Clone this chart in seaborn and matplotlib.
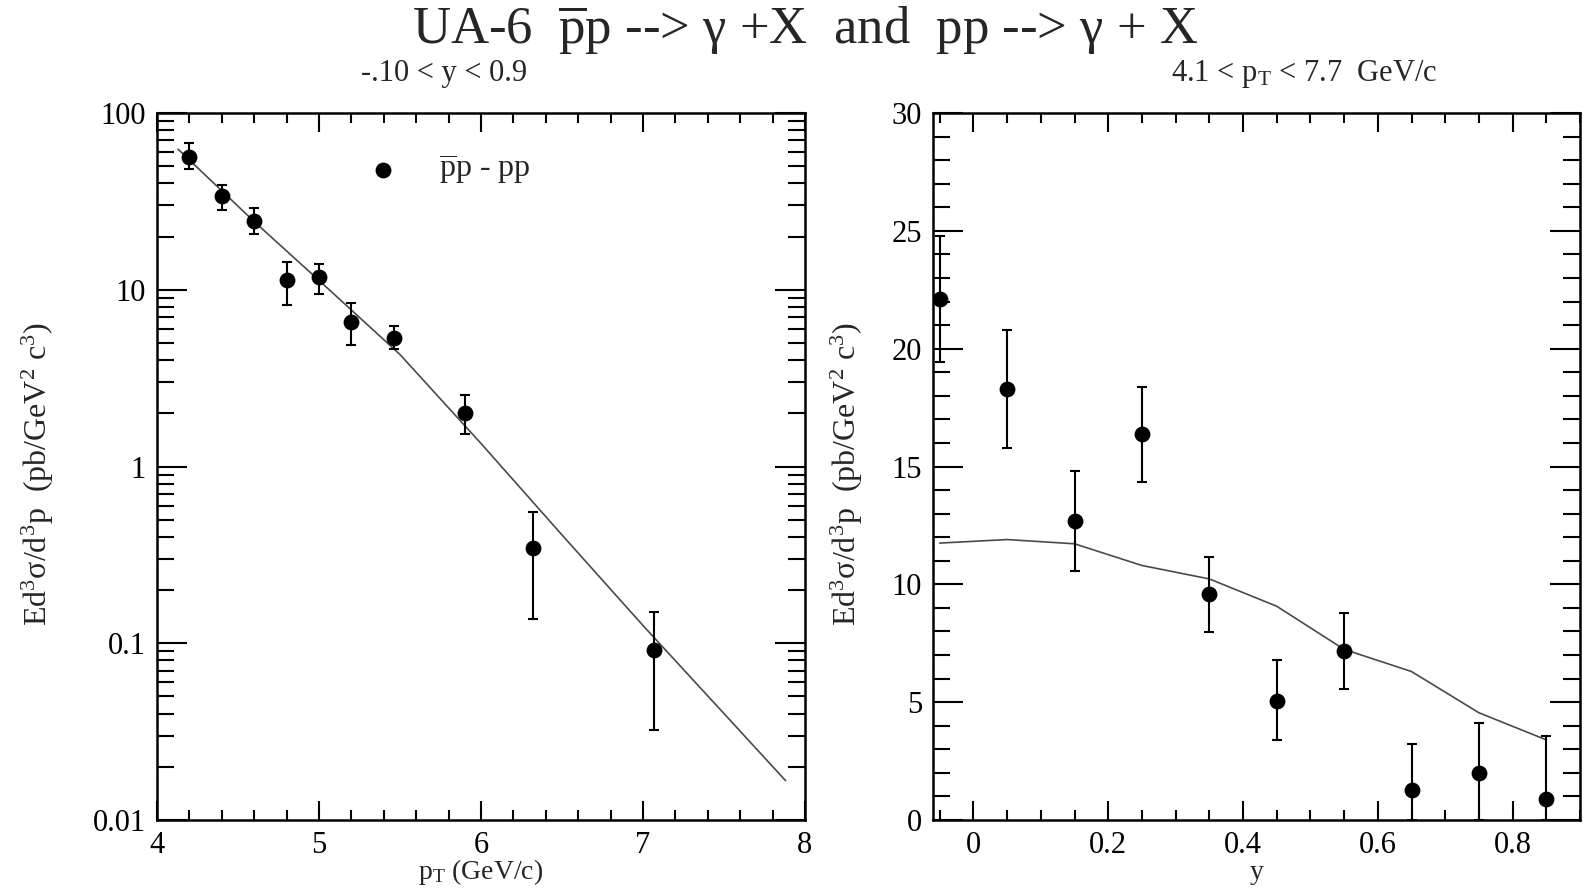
import numpy as np
import pandas as pd
import matplotlib
matplotlib.use("Agg")
import matplotlib.pyplot as plt
import seaborn as sns
from matplotlib.ticker import MultipleLocator, FixedLocator, NullFormatter, FuncFormatter, LogLocator

# ---------------- data ----------------
# left panel: cross section vs pT
pt = [4.2, 4.4, 4.6, 4.8, 5.0, 5.2, 5.46, 5.9, 6.32, 7.07]
pt_val = [56.5, 34.0, 24.4, 11.4, 11.8, 6.6, 5.3, 2.02, 0.345, 0.092]
pt_hi = [67.3, 39.3, 29.0, 14.4, 14.0, 8.4, 6.2, 2.53, 0.55, 0.150]
pt_lo = [48.4, 28.3, 20.8, 8.2, 9.5, 4.9, 4.6, 1.53, 0.137, 0.0325]
theory_pt = [4.13, 4.6, 5.0, 5.5, 6.0, 6.5, 7.0, 7.5, 7.88]
theory_pt_val = [62.4, 24.3, 11.3, 4.3, 1.35, 0.41, 0.126, 0.040, 0.0167]

# right panel: cross section vs rapidity y
yb = [-0.05, 0.05, 0.15, 0.25, 0.35, 0.45, 0.55, 0.65, 0.75, 0.85]
yb_val = [22.1, 18.3, 12.7, 16.4, 9.6, 5.07, 7.17, 1.26, 1.98, 0.87]
yb_hi = [24.8, 20.8, 14.83, 18.38, 11.18, 6.8, 8.78, 3.24, 4.1, 3.55]
yb_lo = [19.43, 15.8, 10.58, 14.36, 7.99, 3.41, 5.57, 0.0, 0.0, 0.0]
theory_y = [-0.05, 0.05, 0.15, 0.25, 0.35, 0.45, 0.55, 0.65, 0.75, 0.85]
theory_y_val = [11.75, 11.9, 11.72, 10.8, 10.23, 9.07, 7.24, 6.3, 4.55, 3.4]

left_yticks = [0.01, 0.1, 1, 10, 100]
left_yticklabels = ["0.01", "0.1", "1", "10", "100"]

# ---------------- style ----------------
sns.set_theme(style="ticks")
plt.rcParams["font.family"] = ["Liberation Serif", "DejaVu Serif"]
plt.rcParams["mathtext.fontset"] = "custom"
plt.rcParams["mathtext.rm"] = "Liberation Serif"
plt.rcParams["mathtext.it"] = "Liberation Serif:italic"
plt.rcParams["mathtext.bf"] = "Liberation Serif:bold"
plt.rcParams["axes.linewidth"] = 1.8

TICK_FS = 22
LAB_FS = 23
XLAB_FS = 20

W, H = 1585, 891
fig = plt.figure(figsize=(W / 100, H / 100), dpi=100)
ax1 = fig.add_axes([157 / W, 1 - 820 / H, (805 - 157) / W, (820 - 113) / H])
ax2 = fig.add_axes([933 / W, 1 - 820 / H, (1580 - 933) / W, (820 - 113) / H])

for ax in (ax1, ax2):
    ax.set_facecolor("white")
    for s in ax.spines.values():
        s.set_color("black")
        s.set_linewidth(1.8)
    ax.tick_params(which="both", direction="in", top=True, right=True,
                   colors="black", width=1.5, labelsize=TICK_FS)
    ax.tick_params(axis="y", which="major", length=21.5, pad=8)
    ax.tick_params(axis="y", which="minor", length=12)
    ax.tick_params(axis="x", which="major", length=13.5, pad=8)
    ax.tick_params(axis="x", which="minor", length=7)
    ax.grid(False)

# ---------------- left panel ----------------
pv = np.array(pt_val)
ax1.errorbar(pt, pt_val, yerr=[pv - np.array(pt_lo), np.array(pt_hi) - pv],
             fmt="none", ecolor="black", elinewidth=1.5, capsize=3.6, capthick=1.5, zorder=3)
sns.lineplot(x=theory_pt, y=theory_pt_val, ax=ax1, color="#4a4a4a", linewidth=1.2,
             legend=False, zorder=2)
sns.scatterplot(x=pt, y=pt_val, ax=ax1, color="black", s=130, linewidth=0, zorder=4,
                label=r"$\overline{\mathrm{p}}$p - pp", legend=False)
ax1.set_yscale("log")
ax1.set_xlim(4, 8)
ax1.set_ylim(0.01, 100)
ax1.xaxis.set_major_locator(MultipleLocator(1))
ax1.xaxis.set_minor_locator(MultipleLocator(0.2))
ax1.yaxis.set_major_locator(FixedLocator(left_yticks))
ax1.yaxis.set_major_formatter(FuncFormatter(lambda v, p: left_yticklabels[left_yticks.index(v)] if v in left_yticks else ""))
ax1.yaxis.set_minor_locator(LogLocator(base=10, subs=np.arange(2, 10)))
ax1.yaxis.set_minor_formatter(NullFormatter())
ax1.set_xlabel(r"p$_{\mathrm{T}}$ (GeV/c)", fontsize=XLAB_FS)
ax1.xaxis.label.set_va("baseline")
ax1.xaxis.set_label_coords(0.5, (820 - 879) / 707)
ax1.set_ylabel(r"Ed$^{3}$σ/d$^{3}$p  (pb/GeV$^{2}$ c$^{3}$)", fontsize=LAB_FS)
ax1.yaxis.label.set_va("center")
ax1.yaxis.set_label_coords((38 - 157) / 648, 0.49)

h, l = ax1.get_legend_handles_labels()
ax1.legend(h, l, loc="center left", bbox_to_anchor=(0.3235, 0.919), frameon=False,
           fontsize=LAB_FS, handlelength=1.0, handletextpad=1.25, borderpad=0,
           borderaxespad=0)

# ---------------- right panel ----------------
yv = np.array(yb_val)
ax2.errorbar(yb, yb_val, yerr=[yv - np.array(yb_lo), np.array(yb_hi) - yv],
             fmt="none", ecolor="black", elinewidth=1.5, capsize=3.6, capthick=1.5, zorder=3)
sns.lineplot(x=theory_y, y=theory_y_val, ax=ax2, color="#4a4a4a", linewidth=1.2,
             legend=False, zorder=2)
sns.scatterplot(x=yb, y=yb_val, ax=ax2, color="black", s=130, linewidth=0, zorder=4,
                legend=False)
ax2.set_xlim(-0.06, 0.9)
ax2.set_ylim(0, 30)
ax2.xaxis.set_major_locator(MultipleLocator(0.2))
ax2.xaxis.set_minor_locator(MultipleLocator(0.05))
ax2.xaxis.set_major_formatter(FuncFormatter(lambda v, p: "0" if abs(v) < 1e-9 else f"{v:.1f}"))
ax2.yaxis.set_major_locator(MultipleLocator(5))
ax2.yaxis.set_minor_locator(MultipleLocator(1))
ax2.set_xlabel("y", fontsize=XLAB_FS)
ax2.xaxis.label.set_va("baseline")
ax2.xaxis.set_label_coords(0.5, (820 - 879) / 707)
ax2.set_ylabel(r"Ed$^{3}$σ/d$^{3}$p  (pb/GeV$^{2}$ c$^{3}$)", fontsize=LAB_FS)
ax2.yaxis.label.set_va("center")
ax2.yaxis.set_label_coords((847 - 933) / 647, 0.49)

# ---------------- titles ----------------
fig.text(805 / W, 1 - 44 / H, r"UA-6  $\overline{\mathrm{p}}$p --> γ +X  and  pp --> γ + X",
         ha="center", va="baseline", fontsize=38)
fig.text(444 / W, 1 - 81 / H, "-.10 < y < 0.9", ha="center", va="baseline", fontsize=22)
fig.text(1304 / W, 1 - 81 / H, r"4.1 < p$_{\mathrm{T}}$ < 7.7  GeV/c", ha="center",
         va="baseline", fontsize=22)

fig.savefig("out.png", dpi=100, facecolor="white")
